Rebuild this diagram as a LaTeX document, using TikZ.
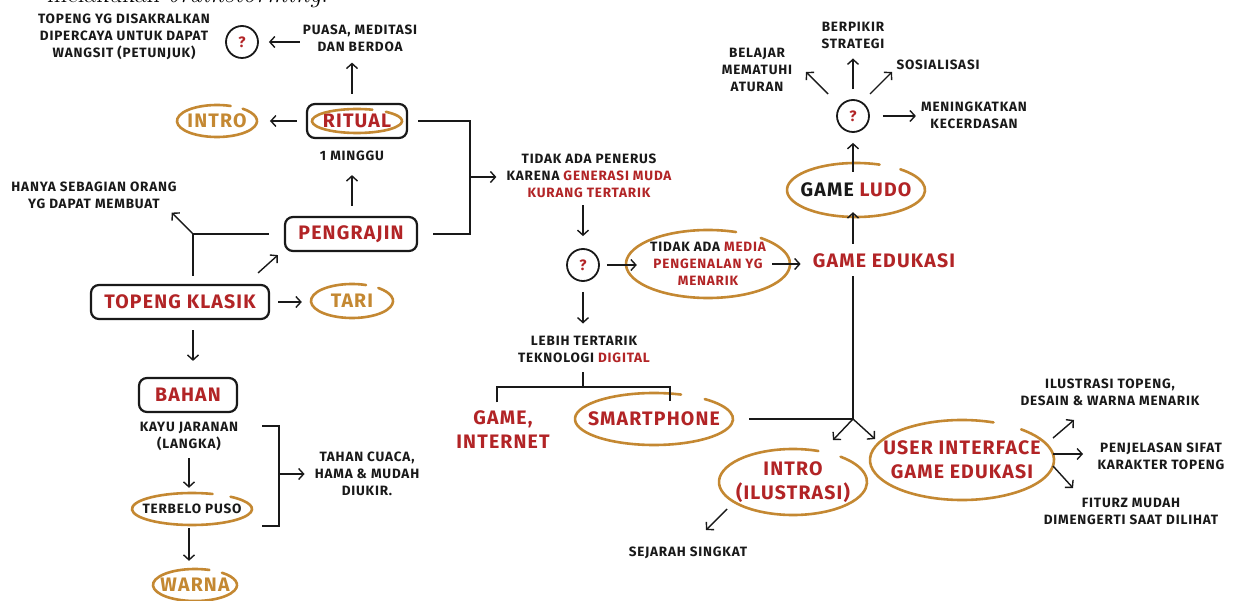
\documentclass[tikz,border=0pt]{standalone}
\usepackage{fontspec}
\newfontfamily\hand{Fira Sans}[LetterSpace=6]
\usetikzlibrary{shapes.geometric,arrows.meta,calc}
\definecolor{tred}{RGB}{178,36,38}
\definecolor{torange}{RGB}{196,136,50}
\definecolor{tink}{RGB}{25,25,25}
\tikzset{
 lbl/.style={font=\hand\bfseries\fontsize{13.5}{17}\selectfont, align=center, inner sep=0pt, text=tink},
 bigl/.style={font=\hand\bfseries\fontsize{19.5}{24}\selectfont, align=center, inner sep=0pt},
 boxn/.style={bigl, draw=tink, line width=2.2pt, rounded corners=8pt, text=tred},
 qc/.style={circle, draw=tink, line width=1.8pt, minimum size=32pt, inner sep=0pt, text=tred, font=\hand\bfseries\fontsize{15}{15}\selectfont},
 arr/.style={draw=tink, line width=1.4pt, -{Straight Barb[length=5pt,width=11pt]}},
 ln/.style={draw=tink, line width=1.6pt},
 ovl/.style={draw=torange, line width=2.6pt, line cap=round},
 ovn/.style={ellipse, inner sep=0pt},
}
\newcommand{\handloop}[3]{\draw[ovl] ($(#1.center)+(70:#2pt and #3pt)$) arc[start angle=70, end angle=410, x radius=#2pt, y radius=#3pt];}
\begin{document}
\begin{tikzpicture}[x=1pt,y=-1pt]
\useasboundingbox (0,0) rectangle (1234,601);
\fill[white] (0,0) rectangle (1234,601);
\node[anchor=base west, inner sep=0pt, font=\fontsize{26}{30}\selectfont] (head) at (47,3) {melakukan \textit{brainstorming}.};
% left part
\node[lbl] (sakral) at (124,37) {TOPENG YG DISAKRALKAN\\DIPERCAYA UNTUK DAPAT\\WANGSIT (PETUNJUK)};
\node[qc] (q1) at (242,42) {?};
\node[lbl] (puasa) at (360,38) {PUASA, MEDITASI\\DAN BERDOA};
\node[boxn, minimum width=100pt, minimum height=34pt] (ritual) at (357,121) {RITUAL};
\node[ovn, minimum width=80pt, minimum height=32pt, bigl, text=torange] (intro) at (217,121) {INTRO};
\node[lbl] (minggu) at (352,156) {1 MINGGU};
\node[boxn, minimum width=132pt, minimum height=34pt] (pengrajin) at (351,234) {PENGRAJIN};
\node[lbl] (hanya) at (94,195) {HANYA SEBAGIAN ORANG\\YG DAPAT MEMBUAT};
\node[boxn, minimum width=178pt, minimum height=34pt] (klasik) at (180,302) {TOPENG KLASIK};
\node[ovn, minimum width=82pt, minimum height=34pt, bigl, text=torange] (tari) at (352,301) {TARI};
\node[boxn, minimum width=98pt, minimum height=34pt] (bahan) at (188,395) {BAHAN};
\node[lbl] (kayu) at (189,436) {KAYU JARANAN\\(LANGKA)};
\node[lbl, ovn, minimum width=120pt, minimum height=32pt] (terbelo) at (192,509) {TERBELO PUSO};
\node[ovn, minimum width=84pt, minimum height=32pt, bigl, text=torange] (warna) at (195,585) {WARNA};
\node[lbl] (tahan) at (367,474) {TAHAN CUACA,\\HAMA \& MUDAH\\DIUKIR.};
% middle part
\node[lbl] (penerus) at (589,176) {TIDAK ADA PENERUS\\KARENA \textcolor{tred}{GENERASI MUDA}\\\textcolor{tred}{KURANG TERTARIK}};
\node[qc] (q2) at (583,265) {?};
\node[lbl, ovn, minimum width=164pt, minimum height=68pt] (media) at (708,264) {TIDAK ADA \textcolor{tred}{MEDIA}\\\textcolor{tred}{PENGENALAN YG}\\\textcolor{tred}{MENARIK}};
\node[bigl, text=tred] (edu) at (884,261) {GAME EDUKASI};
\node[ovn, minimum width=138pt, minimum height=54pt, bigl, text=tink] (ludo) at (856,190) {GAME \textcolor{tred}{LUDO}};
\node[qc] (q3) at (853,116) {?};
\node[lbl] (belajar) at (757,70) {BELAJAR\\MEMATUHI\\ATURAN};
\node[lbl] (berpikir) at (853,35) {BERPIKIR\\STRATEGI};
\node[lbl] (sosial) at (938,65) {SOSIALISASI};
\node[lbl] (cerdas) at (974,115) {MENINGKATKAN\\KECERDASAN};
\node[lbl] (lebih) at (584,349) {LEBIH TERTARIK\\TEKNOLOGI \textcolor{tred}{DIGITAL}};
\node[bigl, text=tred] (gameint) at (503,430) {GAME,\\INTERNET};
\node[ovn, minimum width=158pt, minimum height=52pt, bigl, text=tred] (smart) at (654,419) {SMARTPHONE};
\node[ovn, minimum width=148pt, minimum height=66pt, bigl, text=tred] (introil) at (793,482) {INTRO\\(ILUSTRASI)};
\node[lbl] (sejarah) at (688,553) {SEJARAH SINGKAT};
\node[ovn, minimum width=184pt, minimum height=80pt, bigl, text=tred] (ui) at (962,460) {USER INTERFACE\\GAME EDUKASI};
\node[lbl] (ilus) at (1110,392) {ILUSTRASI TOPENG,\\DESAIN \& WARNA MENARIK};
\node[lbl] (penj) at (1161,456) {PENJELASAN SIFAT\\KARAKTER TOPENG};
\node[lbl] (fitur) at (1131,511) {FITURZ MUDAH\\DIMENGERTI SAAT DILIHAT};
% loops
\handloop{ritual}{45}{12}
\handloop{intro}{40}{16}
\handloop{tari}{41}{17}
\handloop{terbelo}{60}{16}
\handloop{warna}{42}{16}
\handloop{media}{82}{34}
\handloop{ludo}{69}{27}
\handloop{smart}{79}{26}
\handloop{introil}{74}{33}
\handloop{ui}{92}{40}
% connectors left
\draw[arr, shorten <=3pt, shorten >=10pt] (puasa.west |- q1) -- (q1);
\draw[arr, shorten <=9pt, shorten >=11pt] (minggu |- ritual.north) -- (minggu |- puasa.south);
\draw[arr, shorten <=9pt, shorten >=11pt] (ritual.west) -- (ritual.west -| intro.east);
\draw[arr, shorten <=10pt, shorten >=14pt] (minggu |- pengrajin.north) -- (minggu.south);
\coordinate (jx) at (470,177);
\draw[ln] ([xshift=10pt]ritual.east) -- (ritual.east -| jx) -- (pengrajin.east -| jx) -- ([xshift=15pt]pengrajin.east);
\draw[arr, shorten >=10pt] (jx) -- (jx -| penerus.west);
\coordinate (jk) at (193,234);
\draw[ln, shorten <=8pt, shorten >=15pt] (jk |- klasik.north) -- (jk) -- (jk -| pengrajin.west);
\draw[arr] (jk) -- ($(hanya.south east)+(-5,4)$);
\draw[arr] ($(klasik.north east)+(-12,-11)$) -- ($(pengrajin.south west)+(-6,3)$);
\draw[arr, shorten <=8pt, shorten >=9pt] (klasik.east) -- (klasik.east -| tari.west);
\draw[arr, shorten <=10pt, shorten >=16pt] (jk |- klasik.south) -- (jk |- bahan.north);
\draw[arr, shorten <=8pt, shorten >=5pt] (kayu.south) -- (kayu.south |- terbelo.north);
\draw[arr, shorten <=3pt, shorten >=8pt] (kayu.south |- terbelo.south) -- (kayu.south |- warna.north);
\coordinate (bt) at (279,426);
\coordinate (bb) at (279,526);
\draw[ln] (terbelo.east |- bt) -- (bt) -- (bb) -- (terbelo.east |- bb);
\draw[arr, shorten >=10pt] (bt |- tahan) -- (tahan.west);
% connectors middle
\draw[arr, shorten <=7pt, shorten >=12pt] (q2 |- penerus.south) -- (q2.north);
\draw[arr, shorten <=7pt] (q2.east) -- ($(q2.east -| media.west)+(11,0)$);
\draw[arr, shorten >=12pt] ($(media.east)+(-18,0)$) -- (media.east -| edu.west);
\draw[arr, shorten <=10pt] (q3 |- edu.north) -- ($(q3 |- ludo.south)+(0,-5)$);
\draw[arr, shorten >=10pt] ($(q3 |- ludo.center)+(0,-18)$) -- (q3.south);
\draw[arr] ($(q3)+(-25,-22)$) -- ($(q3)+(-47,-44)$);
\draw[arr, shorten <=10pt, shorten >=10pt] (q3.north) -- (q3 |- berpikir.south);
\draw[arr] ($(q3)+(17,-22)$) -- ($(q3)+(39,-44)$);
\draw[arr, shorten <=13pt, shorten >=5pt] (q3.east) -- (q3.east -| cerdas.west);
\draw[arr, shorten <=10pt, shorten >=12pt] (q2.south) -- (q2.south |- lebih.north);
\coordinate (tb) at (583,387);
\coordinate (tl) at (497,387);
\coordinate (tr) at (670,387);
\draw[ln, shorten <=10pt] (tb |- lebih.south) -- (tb);
\draw[ln] ($(tl |- gameint.north)+(0,-8.5)$) -- (tl) -- (tr) -- ($(tr |- smart.north)+(0,8)$);
\coordinate (jn) at (853,419);
\draw[ln, shorten <=8pt] (jn |- edu.south) -- (jn);
\draw[ln, shorten <=2pt] (smart.east) -- (smart.east -| jn);
\draw[arr] (jn) -- ($(jn)+(-20,21)$);
\draw[arr] (jn) -- ($(jn)+(22,20)$);
\draw[arr] ($(introil.center)+(-66,27)$) -- ($(introil.center)+(-87,48)$);
\draw[arr] ($(ui.center)+(91,-22)$) -- ($(ui.center)+(112,-40)$);
\draw[arr] ($(ui.center)+(91,-6)$) -- ($(ui.center)+(121,-6)$);
\draw[arr] ($(ui.center)+(91,6)$) -- ($(ui.center)+(111,28)$);
\end{tikzpicture}
\end{document}
